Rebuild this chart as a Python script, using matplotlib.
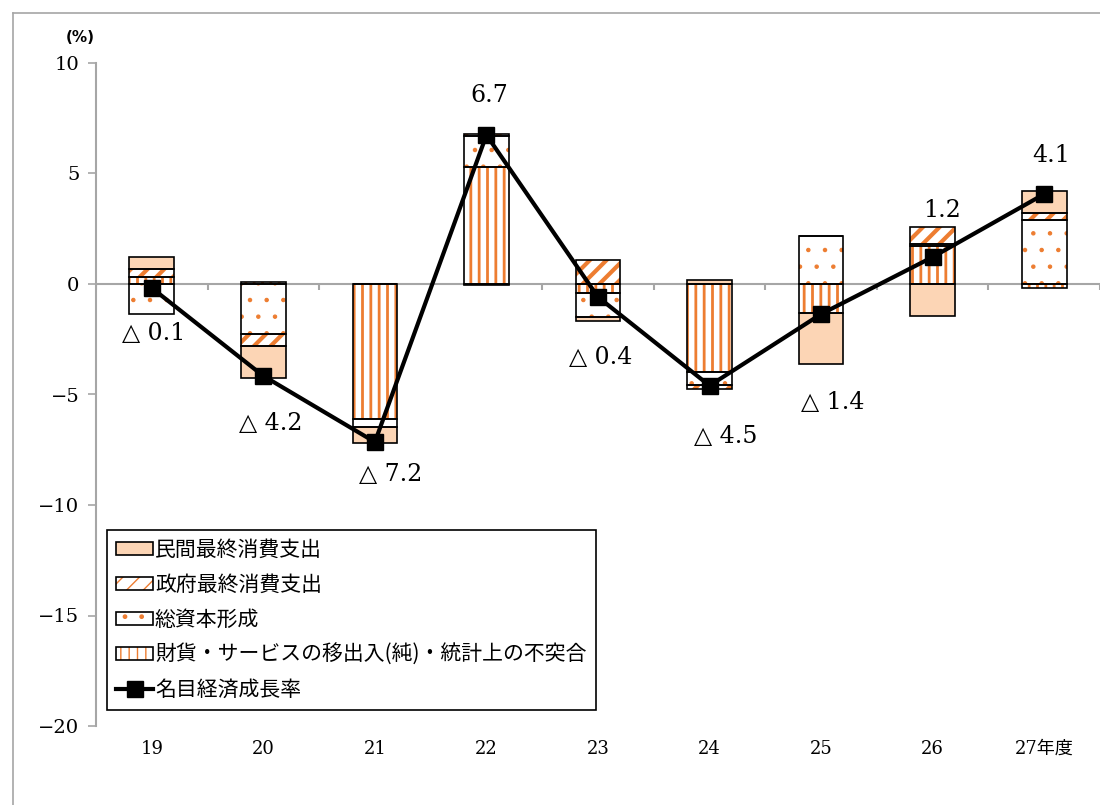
import numpy as np
import matplotlib.pyplot as plt
from matplotlib.patches import Patch
from matplotlib.lines import Line2D
from matplotlib.legend_handler import HandlerTuple

# fiscal years and contributions to nominal growth (% points)
years = ["19", "20", "21", "22", "23", "24", "25", "26", "27年度"]
private = [0.57, -1.46, -0.75, -0.05, -0.2, 0.18, -2.3, -1.43, 1.0]
government = [0.36, -0.53, 0.0, 0.1, 1.1, -0.18, 0.0, 0.78, 0.3]
capital = [-1.37, -2.28, -0.35, 1.4, -1.09, -0.57, 2.19, 0.09, 2.9]
net_exports = [0.3, 0.1, -6.1, 5.3, -0.4, -4.0, -1.3, 1.7, -0.2]
growth = [-0.18, -4.16, -7.15, 6.74, -0.59, -4.6, -1.36, 1.22, 4.07]
growth_labels = ["△ 0.1", "△ 4.2", "△ 7.2", "6.7", "△ 0.4", "△ 4.5", "△ 1.4", "1.2", "4.1"]

# label offsets in pixels (placement only)
label_offsets = [(2, -46), (7, -48), (16, -32), (3, 40), (3, -60), (16, -51), (12, -88), (9, 47), (7, 39)]

ORANGE = "#ED7D31"
PEACH = "#FCD5B5"
GRAY = "#A6A6A6"

fig = plt.figure(figsize=(11, 8.05), dpi=100)
ax = fig.add_axes([96 / 1100, 79 / 805, 1004 / 1100, 663 / 805])

x = np.arange(len(years))
width = 0.4
pos = np.zeros(len(years))
neg = np.zeros(len(years))

# (values, hatch, face, hatch linewidth)
series = [
    (net_exports, "||", "white", 2.0),
    (capital, ".", "white", 0.8),
    (government, "//", "white", 3.0),
    (private, None, PEACH, 1.0),
]
for vals, hatch, face, hlw in series:
    v = np.array(vals)
    bottom = np.where(v >= 0, pos, neg)
    with plt.rc_context({"hatch.linewidth": hlw}):
        ax.bar(x, v, width, bottom=bottom, color=face, edgecolor=ORANGE,
               linewidth=0, hatch=hatch, zorder=2)
    ax.bar(x, v, width, bottom=bottom, fill=False, edgecolor="black",
           linewidth=1.2, zorder=3)
    pos += np.where(v > 0, v, 0)
    neg += np.where(v < 0, v, 0)

# zero line with category ticks
ax.axhline(0, color=GRAY, lw=1.5, zorder=1)
ax.vlines(np.arange(-0.5, len(years), 1), -0.25, 0, color=GRAY, lw=1.5, zorder=1)

ax.plot(x, growth, color="black", lw=3, marker="s", ms=11, zorder=5)

for i, (txt, off) in enumerate(zip(growth_labels, label_offsets)):
    ax.annotate(txt, (x[i], growth[i]), xytext=off, textcoords="offset pixels",
                ha="center", va="center", fontsize=17,
                family=["DejaVu Serif", "DejaVu Sans"], zorder=6)

ax.set_xlim(-0.5, len(years) - 0.5)
ax.set_ylim(-20, 10)
ax.set_yticks(np.arange(-20, 11, 5))
ax.set_xticks(x)
ax.set_xticklabels(years, family=["DejaVu Serif", "Noto Sans CJK JP"], fontsize=13)
for lbl in ax.get_yticklabels():
    lbl.set_family("DejaVu Serif")
    lbl.set_fontsize(14)
ax.tick_params(axis="x", length=0, pad=10)
ax.tick_params(axis="y", direction="out", length=6, color=GRAY, width=1.2, pad=6)

for side in ["top", "right", "bottom"]:
    ax.spines[side].set_visible(False)
ax.spines["left"].set_color(GRAY)
ax.spines["left"].set_linewidth(1.5)

# legend
def hatched(hatch, face, hlw):
    with plt.rc_context({"hatch.linewidth": hlw}):
        fill = Patch(facecolor=face, edgecolor=ORANGE, linewidth=0, hatch=hatch)
    edge = Patch(facecolor="none", edgecolor="black", linewidth=1.2)
    return (fill, edge)

handles = [hatched(h, f, w) for _, h, f, w in [series[3], series[2], series[1], series[0]]]
handles.append(Line2D([], [], color="black", lw=3, marker="s", ms=11))
names = ["民間最終消費支出", "政府最終消費支出", "総資本形成",
         "財貨・サービスの移出入(純)・統計上の不突合", "名目経済成長率"]
leg = ax.legend(handles, names, loc="upper left", bbox_to_anchor=(0.011, 0.296),
                handler_map={tuple: HandlerTuple(ndivide=1, pad=0)},
                prop={"family": "Noto Sans CJK JP", "size": 15},
                frameon=True, fancybox=False, edgecolor="black", framealpha=1,
                handlelength=1.75, handleheight=0.55, handletextpad=0.1,
                labelspacing=0.62, borderpad=0.45, borderaxespad=0)
leg.get_frame().set_linewidth(1.2)

fig.text(80 / 1100, 1 - 37 / 805, "(%)", ha="center", va="center",
         fontsize=11, fontweight="bold", family="DejaVu Sans")

# chart area border (top and left visible)
fig.add_artist(Line2D([13 / 1100, 1], [1 - 13 / 805, 1 - 13 / 805], color=GRAY, lw=1.2))
fig.add_artist(Line2D([13 / 1100, 13 / 1100], [0, 1 - 13 / 805], color=GRAY, lw=1.2))

fig.savefig("out.png", dpi=100)
